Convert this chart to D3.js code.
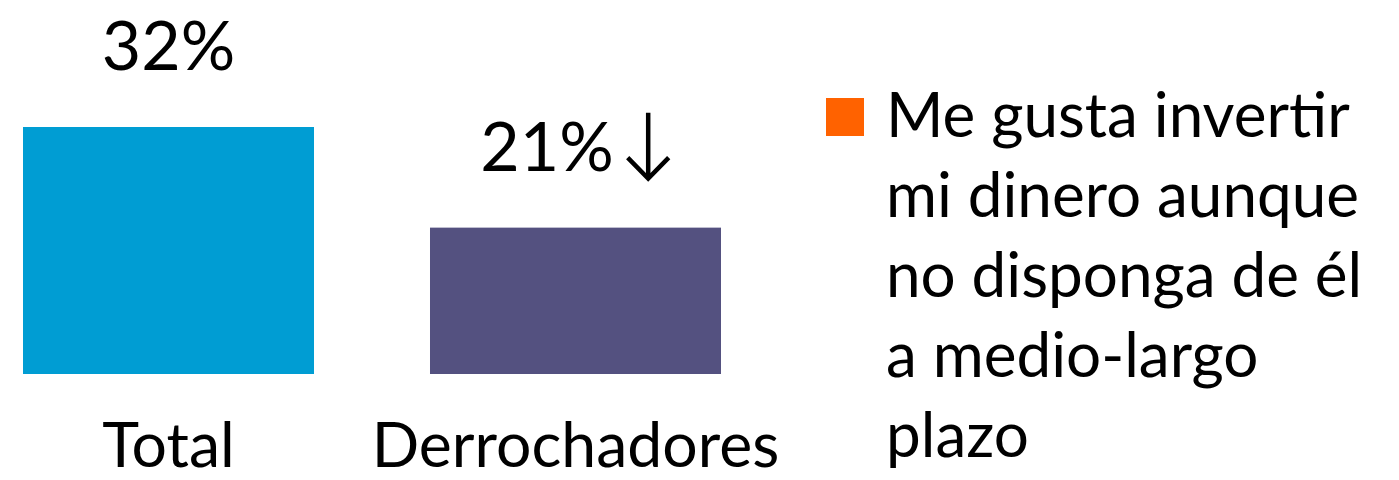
<!DOCTYPE html>
<html>
<head>
<meta charset="utf-8">
<script src="https://cdn.jsdelivr.net/npm/d3@7"></script>
<style>
  html, body { margin: 0; padding: 0; background: #fff; }
  svg { display: block; font-family: Lato, "Open Sans", sans-serif; }
</style>
</head>
<body>
<div id="chart"></div>
<script>
const width = 1399;
const height = 480;

const categories = ["Total", "Derrochadores"];
const values = [32, 21];
const changes = [null, "down"];
const barColors = ["#009DD3", "#545180"];
const legendLines = ["Me gusta invertir", "mi dinero aunque", "no disponga de él", "a medio-largo", "plazo"];
const legendColor = "#FF6200";

const svg = d3.select("#chart")
  .append("svg")
  .attr("width", width)
  .attr("height", height);

const x = d3.scaleBand()
  .domain(categories)
  .range([23, 721])
  .paddingInner(0.285)
  .paddingOuter(0);

// baseline of the bars is not zero in the source chart
const y = d3.scaleLinear()
  .domain([5, 32])
  .range([374, 127]);

svg.append("g")
  .selectAll("rect")
  .data(values)
  .join("rect")
  .attr("x", (d, i) => x(categories[i]))
  .attr("y", d => y(d))
  .attr("width", x.bandwidth())
  .attr("height", d => y.range()[0] - y(d))
  .attr("fill", (d, i) => barColors[i]);

// value labels, with the arrow for significant drops
const labels = svg.append("g")
  .selectAll("g")
  .data(values)
  .join("g");

labels.each(function(d, i) {
  const g = d3.select(this);
  const cx = x(categories[i]) + x.bandwidth() / 2;
  const base = y(d) - 57;
  const t = g.append("text")
    .attr("y", base)
    .attr("font-size", 68)
    .attr("fill", "#000")
    .text(d + "%");
  const tw = t.node().getComputedTextLength();
  const arrowW = changes[i] ? 45 : 0;
  const gap = changes[i] ? 12 : 0;
  const start = cx - (tw + gap + arrowW) / 2;
  t.attr("x", start);
  if (changes[i] === "down") {
    const ax = start + tw + gap + arrowW / 2;
    const top = base - 58, bot = base + 8;
    g.append("path")
      .attr("d", `M${ax},${top}V${bot}M${ax - arrowW / 2 + 2},${bot - 21}L${ax},${bot}L${ax + arrowW / 2 - 2},${bot - 21}`)
      .attr("fill", "none")
      .attr("stroke", "#000")
      .attr("stroke-width", 4.5)
      .attr("stroke-linecap", "butt")
      .attr("stroke-linejoin", "miter");
  }
});

// category labels
svg.append("g")
  .selectAll("text")
  .data(categories)
  .join("text")
  .attr("x", d => x(d) + x.bandwidth() / 2)
  .attr("y", 467)
  .attr("text-anchor", "middle")
  .attr("font-size", 62.5)
  .attr("fill", "#000")
  .text(d => d);

// legend
const legend = svg.append("g");

legend.append("rect")
  .attr("x", 826)
  .attr("y", 98)
  .attr("width", 38)
  .attr("height", 38)
  .attr("fill", legendColor);

legend.append("text")
  .attr("x", 886)
  .attr("y", 137)
  .attr("font-size", 62)
  .attr("fill", "#000")
  .selectAll("tspan")
  .data(legendLines)
  .join("tspan")
  .attr("x", 886)
  .attr("dy", (d, i) => i === 0 ? 0 : 80)
  .text(d => d);
</script>
</body>
</html>
